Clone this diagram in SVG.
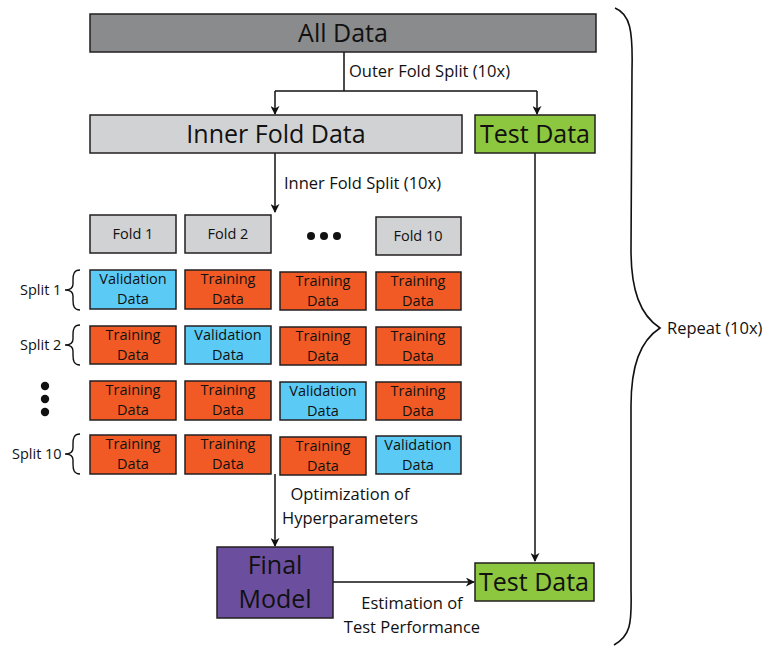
<svg xmlns="http://www.w3.org/2000/svg" xmlns:xlink="http://www.w3.org/1999/xlink" width="767" height="648" viewBox="0 0 767 648">
<style>
  text { font-family: "Open Sans", "Noto Sans", "Liberation Sans", sans-serif; fill: #111; }
  .box { stroke: #231f20; stroke-width: 1.5; }
  .gray { fill: #8a8b8d; }
  .light { fill: #d1d2d4; }
  .green { fill: #8dc63f; }
  .orange { fill: #f15a24; }
  .blue { fill: #5bcbf5; }
  .purple { fill: #6b4f9e; }
  .big { font-size: 25px; text-anchor: middle; }
  .cell { font-size: 14.5px; text-anchor: middle; }
  .fold { font-size: 14.5px; text-anchor: middle; }
  .lbl { font-size: 16.5px; }
  .split { font-size: 14.5px; }
  .line { stroke: #111; stroke-width: 1.5; fill: none; }
</style>
<defs>
  <marker id="ah" viewBox="0 0 10 10" refX="9" refY="5" markerWidth="9" markerHeight="9" markerUnits="userSpaceOnUse" orient="auto">
    <path d="M0,0 L10,5 L0,10 L3,5 Z" fill="#111"/>
  </marker>
  <path id="brace" d="M80,0 C74,0 73,4 73,10 L73,14 C73,18 70,20 65,20 C70,20 73,22 73,26 L73,30 C73,36 74,40 80,40" fill="none" stroke="#111" stroke-width="1.4"/>
</defs>

<g id="connectors">
  <path class="line" d="M344,52 V91"/>
  <path class="line" d="M275,91 H537"/>
  <path class="line" d="M275,91 V114" marker-end="url(#ah)"/>
  <path class="line" d="M537,91 V114" marker-end="url(#ah)"/>
  <path class="line" d="M275,153 V212" marker-end="url(#ah)"/>
  <path class="line" d="M535,153 V561" marker-end="url(#ah)"/>
  <path class="line" d="M275,474 V546" marker-end="url(#ah)"/>
  <path class="line" d="M333,582 H474" marker-end="url(#ah)"/>
  <text class="lbl" x="349" y="77">Outer Fold Split (10x)</text>
  <text class="lbl" x="284" y="189">Inner Fold Split (10x)</text>
  <text class="lbl" x="350" y="500" text-anchor="middle">Optimization of</text>
  <text class="lbl" x="350" y="524" text-anchor="middle">Hyperparameters</text>
  <text class="lbl" x="412" y="609" text-anchor="middle">Estimation of</text>
  <text class="lbl" x="412" y="633" text-anchor="middle">Test Performance</text>
</g>

<g id="all-data"><rect class="box gray" x="90" y="14" width="506" height="38"/><text class="big" x="343" y="42">All Data</text></g>
<g id="inner-fold-data"><rect class="box light" x="90" y="115" width="372" height="38"/><text class="big" x="276" y="143">Inner Fold Data</text></g>
<g id="test-data-top"><rect class="box green" x="475" y="115" width="120" height="38"/><text class="big" x="535" y="143">Test Data</text></g>

<g id="fold-1"><rect class="box light" x="90" y="215" width="86" height="38"/><text class="fold" x="133" y="239">Fold 1</text></g>
<g id="fold-2"><rect class="box light" x="185" y="215" width="86" height="38"/><text class="fold" x="228" y="239">Fold 2</text></g>
<g id="fold-dots" fill="#111"><circle cx="311" cy="236" r="4"/><circle cx="324" cy="236" r="4"/><circle cx="337" cy="236" r="4"/></g>
<g id="fold-10"><rect class="box light" x="376" y="217" width="85" height="38"/><text class="fold" x="418" y="241">Fold 10</text></g>

<g id="split-1-label"><text class="split" x="20" y="295">Split 1</text><use xlink:href="#brace" transform="translate(0,270)"/></g>
<g id="split-2-label"><text class="split" x="20" y="350">Split 2</text><use xlink:href="#brace" transform="translate(0,325)"/></g>
<g id="split-dots" fill="#111"><circle cx="45" cy="386" r="4.2"/><circle cx="45" cy="399" r="4.2"/><circle cx="45" cy="412" r="4.2"/></g>
<g id="split-10-label"><text class="split" x="12" y="459">Split 10</text><use xlink:href="#brace" transform="translate(0,434)"/></g>

<g id="r1c1"><rect class="box blue" x="90" y="270" width="86" height="39"/><text class="cell" x="133" y="284">Validation</text><text class="cell" x="133" y="304">Data</text></g>
<g id="r1c2"><rect class="box orange" x="185" y="270" width="86" height="39"/><text class="cell" x="228" y="284">Training</text><text class="cell" x="228" y="304">Data</text></g>
<g id="r1c3"><rect class="box orange" x="280" y="272" width="86" height="38"/><text class="cell" x="323" y="286">Training</text><text class="cell" x="323" y="306">Data</text></g>
<g id="r1c4"><rect class="box orange" x="376" y="272" width="85" height="38"/><text class="cell" x="418" y="286">Training</text><text class="cell" x="418" y="306">Data</text></g>

<g id="r2c1"><rect class="box orange" x="90" y="326" width="86" height="38"/><text class="cell" x="133" y="340">Training</text><text class="cell" x="133" y="360">Data</text></g>
<g id="r2c2"><rect class="box blue" x="185" y="326" width="86" height="38"/><text class="cell" x="228" y="340">Validation</text><text class="cell" x="228" y="360">Data</text></g>
<g id="r2c3"><rect class="box orange" x="280" y="327" width="86" height="38"/><text class="cell" x="323" y="341">Training</text><text class="cell" x="323" y="361">Data</text></g>
<g id="r2c4"><rect class="box orange" x="376" y="327" width="85" height="38"/><text class="cell" x="418" y="341">Training</text><text class="cell" x="418" y="361">Data</text></g>

<g id="r3c1"><rect class="box orange" x="90" y="381" width="86" height="39"/><text class="cell" x="133" y="395">Training</text><text class="cell" x="133" y="415">Data</text></g>
<g id="r3c2"><rect class="box orange" x="185" y="381" width="86" height="39"/><text class="cell" x="228" y="395">Training</text><text class="cell" x="228" y="415">Data</text></g>
<g id="r3c3"><rect class="box blue" x="280" y="382" width="86" height="38"/><text class="cell" x="323" y="396">Validation</text><text class="cell" x="323" y="416">Data</text></g>
<g id="r3c4"><rect class="box orange" x="376" y="382" width="85" height="38"/><text class="cell" x="418" y="396">Training</text><text class="cell" x="418" y="416">Data</text></g>

<g id="r4c1"><rect class="box orange" x="90" y="435" width="86" height="39"/><text class="cell" x="133" y="449">Training</text><text class="cell" x="133" y="469">Data</text></g>
<g id="r4c2"><rect class="box orange" x="185" y="435" width="86" height="39"/><text class="cell" x="228" y="449">Training</text><text class="cell" x="228" y="469">Data</text></g>
<g id="r4c3"><rect class="box orange" x="280" y="437" width="86" height="38"/><text class="cell" x="323" y="451">Training</text><text class="cell" x="323" y="471">Data</text></g>
<g id="r4c4"><rect class="box blue" x="376" y="436" width="85" height="38"/><text class="cell" x="418" y="450">Validation</text><text class="cell" x="418" y="470">Data</text></g>

<g id="final-model"><rect class="box purple" x="217" y="547" width="116" height="71"/><text class="big" x="275" y="574" font-size="27">Final</text><text class="big" x="275" y="608" font-size="27">Model</text></g>
<g id="test-data-bottom"><rect class="box green" x="475" y="563" width="119" height="38"/><text class="big" x="534" y="591">Test Data</text></g>

<g id="repeat-brace">
  <path d="M615,8 C630,14 633,30 632,70 L631,250 C631,290 640,315 660,328 C640,341 631,366 631,406 L631,590 C632,625 630,636 614,645" fill="none" stroke="#111" stroke-width="1.6"/>
  <text class="lbl" x="667" y="334">Repeat (10x)</text>
</g>
</svg>
